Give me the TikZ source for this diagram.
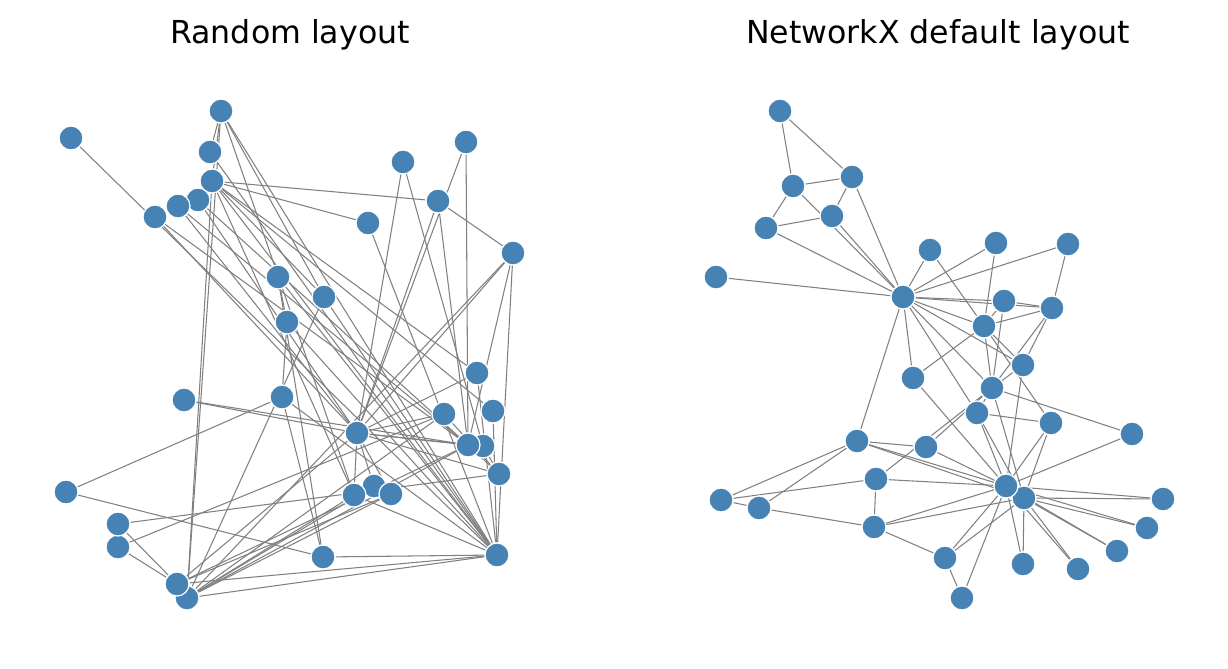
\documentclass[tikz,border=0pt]{standalone}
\usepackage{fontspec}
\setmainfont{DejaVu Sans}
\usetikzlibrary{backgrounds}
\definecolor{steel}{RGB}{70,130,180}
\definecolor{edgegray}{RGB}{128,128,128}
\begin{document}
\begin{tikzpicture}[x=0.02cm,y=-0.02cm,
  vtx/.style={circle,fill=steel,draw=white,line width=0.7pt,minimum size=0.48cm,inner sep=0pt},
  link/.style={draw=edgegray,line width=0.6pt},
  heading/.style={anchor=base,font=\fontsize{18}{20}\selectfont}]
\useasboundingbox (0,0) rectangle (1228,669);
\node[heading] (t1) at (290,44) {Random layout};
\node[heading] (t2) at (938,44) {NetworkX default layout};
% Zachary karate club, edge list
\def\edgelist{0/1,0/2,0/3,0/4,0/5,0/6,0/7,0/8,0/10,0/11,0/12,0/13,0/17,0/19,0/21,0/31,
  1/2,1/3,1/7,1/13,1/17,1/19,1/21,1/30,2/3,2/7,2/8,2/9,2/13,2/27,2/28,2/32,3/7,3/12,3/13,
  4/6,4/10,5/6,5/10,5/16,6/16,8/30,8/32,8/33,9/33,13/33,14/32,14/33,15/32,15/33,18/32,18/33,
  19/33,20/32,20/33,22/32,22/33,23/25,23/27,23/29,23/32,23/33,24/25,24/27,24/31,25/31,
  26/29,26/33,27/33,28/31,28/33,29/32,29/33,30/32,30/33,31/32,31/33,32/33}
% random layout
\foreach \i/\x/\y in {0/497/555,1/212/181,2/187/598,3/221/111,4/287/322,5/323/557,
  6/282/397,7/324/297,8/513/253,9/374/486,10/278/277,11/71/138,12/210/152,13/354/495,
  14/198/200,15/178/206,16/66/492,17/368/223,18/155/217,19/477/373,20/466/142,
  21/493/411,22/184/400,23/499/474,24/118/547,25/118/524,26/403/162,27/444/414,
  28/391/494,29/483/446,30/438/201,31/177/584,32/468/445,33/357/433}
  \node[vtx] (p\i) at (\x,\y) {};
% spring layout
\foreach \i/\x/\y in {0/903/297,1/984/326,2/992/388,3/1052/308,4/766/228,5/852/177,
  6/793/186,7/1004/301,8/977/413,9/1132/434,10/832/216,11/716/277,12/1068/244,
  13/1023/365,14/1163/499,15/1147/528,16/780/111,17/930/250,18/1117/551,19/913/378,
  20/1078/569,21/996/243,22/1023/564,23/874/527,24/721/500,25/759/508,26/962/598,
  27/876/479,28/926/447,29/945/558,30/1051/423,31/857/441,32/1024/498,33/1006/486}
  \node[vtx] (r\i) at (\x,\y) {};
\begin{scope}[on background layer]
\foreach \a/\b in \edgelist {
  \draw[link] (p\a) -- (p\b);
  \draw[link] (r\a) -- (r\b);
}
\end{scope}
\end{tikzpicture}
\end{document}
